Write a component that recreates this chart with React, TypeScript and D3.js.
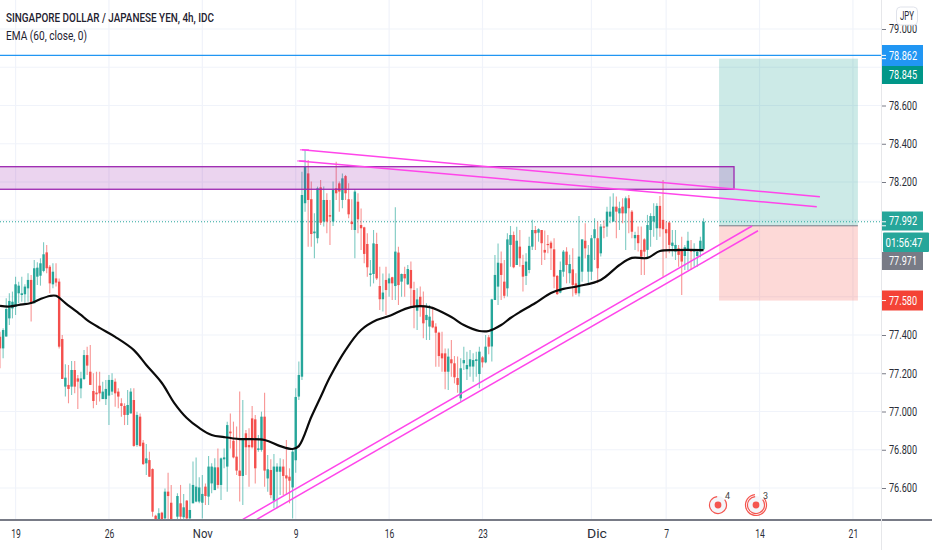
import React, { useEffect, useRef } from 'react';
import * as d3 from 'd3';

// [open, high, low, close], one list per trading week
type Candle = [number, number, number, number];

const candlesOct16: Candle[] = [
  [77.391, 77.417, 77.226, 77.33], [77.33, 77.435, 77.278, 77.426], [77.392, 77.592, 77.392, 77.536],
  [77.487, 77.618, 77.452, 77.578], [77.539, 77.627, 77.487, 77.574],
];
const candlesOct19: Candle[] = [
  [77.548, 77.705, 77.505, 77.665], [77.618, 77.679, 77.566, 77.658], [77.609, 77.705, 77.574, 77.618],
  [77.613, 77.665, 77.566, 77.653], [77.644, 77.723, 77.574, 77.688], [77.688, 77.714, 77.47, 77.566],
  [77.566, 77.792, 77.566, 77.749], [77.705, 77.78, 77.661, 77.752], [77.71, 77.801, 77.658, 77.775],
  [77.735, 77.885, 77.728, 77.822], [77.832, 77.871, 77.723, 77.749], [77.757, 77.766, 77.618, 77.67],
  [77.665, 77.775, 77.644, 77.731], [77.696, 77.775, 77.653, 77.674], [77.679, 77.696, 77.33, 77.339],
  [77.379, 77.4, 77.17, 77.17], [77.13, 77.247, 77.078, 77.177], [77.139, 77.243, 77.043, 77.118],
  [77.13, 77.264, 77.086, 77.217], [77.217, 77.264, 77.095, 77.13], [77.173, 77.191, 77.013, 77.156],
  [77.121, 77.208, 77.069, 77.173], [77.17, 77.322, 77.165, 77.295], [77.295, 77.339, 77.191, 77.24],
  [77.208, 77.348, 77.139, 77.139], [77.107, 77.2, 77.017, 77.055], [77.099, 77.208, 77.034, 77.09],
  [77.135, 77.208, 77.052, 77.095], [77.065, 77.156, 77.065, 77.104], [77.065, 77.165, 77.034, 77.118],
];
const candlesOct26: Candle[] = [
  [77.083, 77.191, 76.929, 77.165], [77.104, 77.2, 77.086, 77.165], [77.156, 77.173, 77.025, 77.095],
  [77.104, 77.121, 77.017, 77.078], [77.043, 77.069, 76.973, 77.029], [77.029, 77.043, 76.929, 76.982],
  [76.982, 77.112, 76.929, 77.034], [76.99, 77.121, 76.99, 77.104], [77.06, 77.121, 76.816, 76.82],
  [76.825, 76.999, 76.816, 76.982], [76.973, 76.99, 76.816, 76.82], [76.837, 76.851, 76.72, 76.725],
  [76.729, 76.83, 76.668, 76.755], [76.746, 76.79, 76.659, 76.659], [76.699, 76.703, 76.45, 76.476],
  [76.455, 76.46, 76.38, 76.39], [76.4, 76.494, 76.38, 76.468], [76.471, 76.476, 76.38, 76.4],
  [76.441, 76.598, 76.4, 76.581], [76.581, 76.68, 76.4, 76.558], [76.523, 76.616, 76.38, 76.4],
  [76.38, 76.42, 76.36, 76.41], [76.45, 76.572, 76.38, 76.558], [76.52, 76.616, 76.38, 76.45],
  [76.447, 76.569, 76.38, 76.499], [76.534, 76.537, 76.38, 76.441], [76.441, 76.624, 76.415, 76.485],
  [76.52, 76.738, 76.52, 76.616], [76.529, 76.76, 76.525, 76.607], [76.529, 76.656, 76.52, 76.603],
];
const candlesNov2: Candle[] = [
  [76.523, 76.668, 76.441, 76.569], [76.607, 76.624, 76.511, 76.558], [76.555, 76.767, 76.511, 76.712],
  [76.624, 76.729, 76.572, 76.712], [76.589, 76.755, 76.589, 76.708], [76.708, 76.807, 76.598, 76.616],
  [76.616, 76.76, 76.537, 76.755], [76.75, 76.807, 76.703, 76.76], [76.712, 76.947, 76.581, 76.929],
  [76.895, 76.99, 76.807, 76.886], [76.847, 76.947, 76.755, 76.76], [76.764, 76.921, 76.668, 76.691],
  [76.691, 77.104, 76.529, 76.663], [76.663, 77.06, 76.511, 76.86], [76.886, 76.903, 76.668, 76.813],
  [76.825, 76.912, 76.607, 76.813], [76.964, 77.029, 76.807, 76.813], [76.959, 76.982, 76.624, 76.703],
  [76.799, 76.877, 76.79, 76.807], [76.799, 76.999, 76.79, 76.973], [76.973, 77.098, 76.607, 76.691],
  [76.65, 76.772, 76.581, 76.698], [76.694, 76.75, 76.546, 76.563], [76.534, 76.778, 76.494, 76.712],
  [76.685, 76.729, 76.494, 76.712], [76.685, 76.755, 76.563, 76.712], [76.712, 76.75, 76.563, 76.663],
  [76.666, 76.851, 76.563, 76.65], [76.659, 76.703, 76.52, 76.638], [76.603, 76.799, 76.441, 76.79],
];
const candlesNov9: Candle[] = [
  [76.745, 77.121, 76.68, 77.076], [77.078, 77.261, 77.06, 77.191], [77.182, 78.254, 77.165, 78.132],
  [78.089, 78.367, 78.045, 78.28], [78.245, 78.315, 77.862, 78.106], [78.11, 78.202, 77.862, 77.928],
  [77.932, 78.036, 77.801, 77.941], [77.906, 78.176, 77.879, 78.167], [78.172, 78.21, 77.975, 77.987],
  [77.993, 78.176, 77.967, 78.106], [78.106, 78.141, 77.932, 77.993], [78.027, 78.106, 77.871, 78.019],
  [77.993, 78.202, 77.97, 78.158], [78.167, 78.306, 78.106, 78.141], [78.193, 78.202, 78.045, 78.15],
  [78.106, 78.245, 78.063, 78.219], [78.231, 78.237, 78.106, 78.141], [78.11, 78.193, 78.01, 78.031],
  [77.993, 78.11, 77.949, 77.98], [77.949, 78.162, 77.801, 78.15], [78.097, 78.141, 77.932, 78.005],
  [77.975, 78.062, 77.845, 77.958], [77.963, 77.966, 77.775, 77.824], [77.876, 77.932, 77.705, 77.754],
  [77.714, 77.792, 77.653, 77.722], [77.719, 77.949, 77.67, 77.879], [77.876, 77.935, 77.687, 77.696],
  [77.656, 77.757, 77.531, 77.587], [77.587, 77.722, 77.523, 77.622], [77.688, 77.757, 77.505, 77.635],
];
const candlesNov16: Candle[] = [
  [77.67, 77.722, 77.6, 77.696], [77.702, 77.705, 77.583, 77.67], [77.656, 78.068, 77.583, 77.836],
  [77.831, 77.862, 77.557, 77.661], [77.679, 77.722, 77.6, 77.719], [77.719, 77.757, 77.6, 77.696],
  [77.665, 77.766, 77.661, 77.745], [77.74, 77.784, 77.548, 77.644], [77.635, 77.679, 77.435, 77.548],
  [77.527, 77.644, 77.426, 77.586], [77.6, 77.653, 77.496, 77.548], [77.548, 77.627, 77.383, 77.461],
  [77.478, 77.566, 77.374, 77.505], [77.444, 77.557, 77.374, 77.496], [77.475, 77.548, 77.435, 77.44],
  [77.444, 77.461, 77.234, 77.412], [77.412, 77.417, 77.234, 77.29], [77.304, 77.417, 77.208, 77.278],
  [77.304, 77.33, 77.116, 77.208], [77.208, 77.33, 77.112, 77.287], [77.273, 77.374, 77.182, 77.252],
  [77.252, 77.29, 77.147, 77.179], [77.175, 77.287, 77.098, 77.139], [77.069, 77.278, 77.052, 77.226],
  [77.252, 77.339, 77.217, 77.269], [77.221, 77.313, 77.165, 77.243], [77.235, 77.322, 77.182, 77.273],
  [77.235, 77.304, 77.156, 77.269], [77.264, 77.313, 77.182, 77.273], [77.196, 77.339, 77.121, 77.313],
];
const candlesNov23: Candle[] = [
  [77.283, 77.29, 77.23, 77.257], [77.257, 77.4, 77.252, 77.339], [77.388, 77.4, 77.3, 77.339],
  [77.34, 77.59, 77.262, 77.586], [77.583, 77.818, 77.583, 77.714], [77.653, 77.879, 77.557, 77.778],
  [77.775, 77.836, 77.583, 77.714], [77.679, 77.792, 77.592, 77.605], [77.644, 77.932, 77.601, 77.9],
  [77.871, 77.97, 77.757, 77.923], [77.923, 77.941, 77.749, 77.754], [77.766, 77.966, 77.766, 77.893],
  [77.862, 77.949, 77.757, 77.801], [77.766, 77.819, 77.627, 77.705], [77.709, 77.827, 77.662, 77.784],
  [77.74, 77.914, 77.723, 77.866], [77.862, 78.002, 77.845, 77.949], [77.949, 77.97, 77.845, 77.932],
  [77.935, 77.958, 77.888, 77.953], [77.949, 77.949, 77.766, 77.88], [77.845, 77.946, 77.792, 77.831],
  [77.876, 77.923, 77.827, 77.87], [77.883, 77.893, 77.74, 77.853], [77.848, 77.906, 77.644, 77.705],
  [77.709, 77.714, 77.609, 77.614], [77.622, 77.784, 77.618, 77.74], [77.731, 77.845, 77.705, 77.836],
  [77.836, 77.859, 77.67, 77.766], [77.723, 77.819, 77.67, 77.771], [77.743, 77.853, 77.601, 77.662],
];
const candlesNov30: Candle[] = [
  [77.67, 77.723, 77.609, 77.618], [77.618, 78.022, 77.601, 77.81], [77.731, 77.9, 77.679, 77.9],
  [77.893, 77.984, 77.801, 77.853], [77.731, 77.871, 77.67, 77.819], [77.731, 77.923, 77.688, 77.906],
  [77.906, 78.01, 77.792, 77.953], [77.906, 77.993, 77.67, 77.749], [77.827, 77.98, 77.81, 77.967],
  [77.967, 77.999, 77.906, 77.963], [77.967, 78.071, 77.914, 78.045], [78.019, 78.124, 77.984, 78.045],
  [77.993, 78.141, 77.993, 78.071], [78.071, 78.124, 77.906, 78.045], [78.036, 78.097, 77.949, 78.063],
  [78.071, 78.115, 77.984, 78.036], [78.036, 78.124, 77.845, 78.115], [78.115, 78.132, 77.932, 78.063],
  [78.045, 78.054, 77.906, 77.94], [77.906, 77.94, 77.845, 77.923], [77.923, 77.967, 77.836, 77.88],
  [77.845, 77.967, 77.714, 77.81], [77.9, 77.906, 77.714, 77.836], [77.845, 78.028, 77.801, 77.975],
  [77.949, 78.036, 77.862, 78.022], [77.993, 78.089, 77.914, 78.022], [77.958, 78.089, 77.897, 78.075],
  [78.075, 78.127, 77.914, 77.958], [78.002, 78.211, 77.705, 77.953], [77.953, 77.993, 77.801, 77.932],
];
const candlesDec7: Candle[] = [
  [77.988, 77.993, 77.827, 77.871], [77.866, 77.949, 77.81, 77.883], [77.836, 77.949, 77.792, 77.871],
  [77.853, 77.871, 77.757, 77.819], [77.845, 77.914, 77.609, 77.784], [77.813, 77.871, 77.74, 77.859],
  [77.845, 77.94, 77.74, 77.893], [77.848, 77.897, 77.74, 77.836], [77.836, 77.88, 77.757, 77.848],
  [77.813, 77.845, 77.757, 77.836], [77.836, 77.914, 77.806, 77.893], [77.848, 78.01, 77.845, 77.992],
];

// EMA 60 at these bars
const emaBars = [-5, -2, 1, 5, 8, 11, 13, 16, 21, 23, 27, 32, 38, 42, 47, 51, 55, 59, 63, 67, 72, 80, 85, 89, 91, 95, 98, 101, 106, 111, 116, 120, 127, 133, 140, 144, 149, 152, 156, 159, 162, 167, 172, 176, 181, 188, 194, 198, 203, 207, 212, 221];
const emaValues = [77.552, 77.549, 77.557, 77.567, 77.588, 77.604, 77.605, 77.567, 77.505, 77.478, 77.437, 77.39, 77.321, 77.243, 77.149, 77.044, 76.966, 76.914, 76.877, 76.866, 76.856, 76.851, 76.819, 76.804, 76.819, 76.971, 77.076, 77.18, 77.321, 77.426, 77.478, 77.499, 77.546, 77.546, 77.494, 77.452, 77.421, 77.421, 77.452, 77.489, 77.52, 77.567, 77.62, 77.641, 77.656, 77.688, 77.766, 77.803, 77.803, 77.839, 77.844, 77.844];

const gridPrices = [79, 78.8, 78.6, 78.4, 78.2, 78, 77.8, 77.6, 77.4, 77.2, 77, 76.8, 76.6];
const priceTicks = [79, 78.6, 78.4, 78.2, 77.4, 77.2, 77, 76.8, 76.6];
const timeTickBars = [0, 30, 60, 90, 120, 150, 185, 209, 239, 269];
const timeTickLabels = ['19', '26', 'Nov', '9', '16', '23', 'Dic', '7', '14', '21'];

// drawings: [bar, price, bar, price]
const trendLines = [
  [92, 78.368, 258.4, 78.123],
  [91.1, 78.31, 257.4, 78.071],
  [73, 76.436, 236.6, 77.97],
  [77.5, 76.436, 238.5, 77.945],
];
const zone = { bar: 230.8, top: 78.28, bottom: 78.162 };
const trade = { from: 226, to: 270.6, target: 78.845, entry: 77.971, stop: 77.58 };
const lastPrice = 77.992;
const alertPrice = 78.862;

const width = 932;
const height = 550;
const plotW = 881;
const plotH = 519;
const font = 'Roboto, sans-serif';

const UP = '#26a69a';
const DOWN = '#f44f4c';
const PINK = '#ff45ea';

export default function App() {
  const ref = useRef<SVGSVGElement>(null);

  useEffect(() => {
    const svg = d3.select(ref.current as SVGSVGElement);
    svg.selectAll('*').remove();

    const candles = [
      ...candlesOct16, ...candlesOct19, ...candlesOct26, ...candlesNov2, ...candlesNov9,
      ...candlesNov16, ...candlesNov23, ...candlesNov30, ...candlesDec7,
    ].map((c, i) => ({ bar: i - 5, open: c[0], high: c[1], low: c[2], close: c[3] }));

    const x = d3.scaleLinear().domain([-5, 221]).range([0, 703.5]);
    const y = d3.scaleLinear().domain([79, 76.6]).range([29, 488]);

    svg.append('rect').attr('width', width).attr('height', height).attr('fill', '#fff');

    svg.append('clipPath').attr('id', 'plot')
      .append('rect').attr('width', plotW).attr('height', plotH);

    const plot = svg.append('g').attr('clip-path', 'url(#plot)');

    // grid
    plot.selectAll('.hgrid').data(gridPrices).enter().append('line')
      .attr('x1', 0).attr('x2', plotW)
      .attr('y1', (d) => y(d)).attr('y2', (d) => y(d))
      .attr('stroke', '#f0f3fa').attr('stroke-width', 1.2);
    plot.selectAll('.vgrid').data(timeTickBars).enter().append('line')
      .attr('x1', (d) => x(d)).attr('x2', (d) => x(d))
      .attr('y1', 0).attr('y2', plotH)
      .attr('stroke', '#f0f3fa').attr('stroke-width', 1.2);

    // long position box
    plot.append('rect')
      .attr('x', x(trade.from)).attr('width', x(trade.to) - x(trade.from))
      .attr('y', y(trade.target)).attr('height', y(trade.entry) - y(trade.target))
      .attr('fill', '#009688').attr('fill-opacity', 0.2);
    plot.append('rect')
      .attr('x', x(trade.from)).attr('width', x(trade.to) - x(trade.from))
      .attr('y', y(trade.entry)).attr('height', y(trade.stop) - y(trade.entry))
      .attr('fill', '#f44336').attr('fill-opacity', 0.2);
    plot.append('line')
      .attr('x1', x(trade.from)).attr('x2', x(trade.to))
      .attr('y1', y(trade.entry)).attr('y2', y(trade.entry))
      .attr('stroke', '#787b86').attr('stroke-width', 1);

    // last price line and alert line
    plot.append('line')
      .attr('x1', 0).attr('x2', plotW)
      .attr('y1', y(lastPrice)).attr('y2', y(lastPrice))
      .attr('stroke', UP).attr('stroke-width', 1).attr('stroke-dasharray', '1 2');
    plot.append('line')
      .attr('x1', 0).attr('x2', plotW)
      .attr('y1', y(alertPrice)).attr('y2', y(alertPrice))
      .attr('stroke', '#2196f3').attr('stroke-width', 1.2);

    // candles
    const color = (d: { open: number; close: number }) => (d.close >= d.open ? UP : DOWN);
    plot.selectAll('.wick').data(candles).enter().append('line')
      .attr('x1', (d) => x(d.bar)).attr('x2', (d) => x(d.bar))
      .attr('y1', (d) => y(d.high)).attr('y2', (d) => y(d.low))
      .attr('stroke', color).attr('stroke-width', 1.1).attr('stroke-opacity', 0.6);
    plot.selectAll('.body').data(candles).enter().append('rect')
      .attr('x', (d) => x(d.bar) - 1.2)
      .attr('width', 2.4)
      .attr('y', (d) => y(Math.max(d.open, d.close)))
      .attr('height', (d) => Math.max(1, Math.abs(y(d.open) - y(d.close))))
      .attr('fill', color);

    // resistance zone
    plot.append('rect')
      .attr('x', -2).attr('width', x(zone.bar) + 2)
      .attr('y', y(zone.top)).attr('height', y(zone.bottom) - y(zone.top))
      .attr('fill', '#9c27b0').attr('fill-opacity', 0.2)
      .attr('stroke', '#9c27b0').attr('stroke-width', 1.3);

    // EMA
    const emaLine = d3.line<number>()
      .x((d) => x(d))
      .y((_, i) => y(emaValues[i]))
      .curve(d3.curveCatmullRom.alpha(0.5));
    plot.append('path')
      .attr('d', emaLine(emaBars))
      .attr('fill', 'none').attr('stroke', '#0b0b0b').attr('stroke-width', 2.2);

    // trend lines
    plot.selectAll('.trend').data(trendLines).enter().append('line')
      .attr('x1', (d) => x(d[0])).attr('y1', (d) => y(d[1]))
      .attr('x2', (d) => x(d[2])).attr('y2', (d) => y(d[3]))
      .attr('stroke', PINK).attr('stroke-width', 1.5);
    plot.selectAll('.trendStart').data(trendLines.slice(0, 2)).enter().append('line')
      .attr('x1', (d) => x(d[0]) - 2).attr('y1', (d) => y(d[1]))
      .attr('x2', (d) => x(d[0]) + 7).attr('y2', (d) => y(d[1]))
      .attr('stroke', PINK).attr('stroke-width', 1);

    // event badges
    const badges = [
      { x: 718, rings: 1, label: '4' },
      { x: 756, rings: 2, label: '3' },
    ];
    const arc = d3.arc<{ r: number }>()
      .innerRadius((d) => d.r - 0.6)
      .outerRadius((d) => d.r + 0.6)
      .startAngle(0.9)
      .endAngle(Math.PI * 2 - 0.1);
    badges.forEach((b) => {
      const g = plot.append('g').attr('transform', `translate(${b.x},505)`);
      g.append('circle').attr('r', 9).attr('fill', '#f4f5f9');
      d3.range(b.rings).forEach((i) => {
        g.append('path').attr('d', arc({ r: 8.5 + i * 2 }) as string).attr('fill', '#f4554f');
      });
      g.append('circle').attr('r', 3.4).attr('fill', '#f4554f');
      g.append('text').attr('x', 7).attr('y', -6).attr('font-size', 9)
        .attr('font-family', font).attr('fill', '#444').text(b.label);
    });

    // axes
    svg.append('line')
      .attr('x1', 0).attr('x2', width)
      .attr('y1', 520).attr('y2', 520)
      .attr('stroke', '#787b86').attr('stroke-width', 2);
    svg.append('line')
      .attr('x1', 881.5).attr('x2', 881.5)
      .attr('y1', 0).attr('y2', height)
      .attr('stroke', '#e6e7ea').attr('stroke-width', 1);

    const yAxis = d3.axisRight(y)
      .tickValues(priceTicks)
      .tickSize(4)
      .tickPadding(3)
      .tickFormat((d) => (d as number).toFixed(3));
    const yG = svg.append('g').attr('transform', 'translate(882,0)').call(yAxis);
    yG.select('.domain').remove();
    yG.selectAll('.tick line').attr('stroke', '#787b86');
    yG.selectAll('.tick text')
      .attr('font-family', font).attr('font-size', 12).attr('fill', '#2b2e38')
      .attr('textLength', 28).attr('lengthAdjust', 'spacingAndGlyphs');

    const xAxis = d3.axisBottom(x)
      .tickValues(timeTickBars)
      .tickSize(0)
      .tickPadding(9)
      .tickFormat((_, i) => timeTickLabels[i]);
    const xG = svg.append('g').attr('transform', 'translate(0,520)').call(xAxis);
    xG.select('.domain').remove();
    xG.selectAll('.tick text')
      .attr('font-family', font).attr('font-size', 12).attr('fill', '#2b2e38')
      .attr('dx', (_, i) => (timeTickLabels[i] === 'Dic' ? 5 : 0))
      .attr('textLength', (_, i) => (timeTickLabels[i].length === 3 ? 20 : timeTickLabels[i].length * 4.8))
      .attr('lengthAdjust', 'spacingAndGlyphs');

    // price labels
    const tags = [
      { price: alertPrice, top: 45, h: 21, fill: '#2196f3', text: '78.862' },
      { price: trade.target, top: 66, h: 18, fill: '#009688', text: '78.845' },
      { price: lastPrice, top: 211.5, h: 19, fill: UP, text: '77.992' },
      { price: trade.entry, top: 252, h: 18, fill: '#787b86', text: '77.971' },
      { price: trade.stop, top: 290.5, h: 20, fill: '#f44336', text: '77.580' },
    ];
    tags.forEach((t) => {
      svg.append('rect').attr('x', 882).attr('y', t.top).attr('width', 41).attr('height', t.h).attr('fill', t.fill);
      svg.append('line').attr('x1', 882).attr('x2', 886)
        .attr('y1', y(t.price)).attr('y2', y(t.price)).attr('stroke', '#fff');
      svg.append('text').attr('x', 889).attr('y', t.top + t.h / 2 + 4)
        .attr('font-family', font).attr('font-size', 12).attr('fill', '#fff')
        .attr('textLength', 28).attr('lengthAdjust', 'spacingAndGlyphs').text(t.text);
    });
    svg.append('rect').attr('x', 883).attr('y', 232.5).attr('width', 46).attr('height', 19.5).attr('rx', 1).attr('fill', UP);
    svg.append('text').attr('x', 885.5).attr('y', 246.5)
      .attr('font-family', font).attr('font-size', 12).attr('fill', '#fff')
      .attr('textLength', 37).attr('lengthAdjust', 'spacingAndGlyphs').text('01:56:47');

    // currency button
    svg.append('rect').attr('x', 896.5).attr('y', 7).attr('width', 21).attr('height', 18).attr('rx', 4)
      .attr('fill', '#fff').attr('stroke', '#e0e3eb');
    svg.append('text').attr('x', 900).attr('y', 20)
      .attr('font-family', font).attr('font-size', 12).attr('fill', '#2b2e38')
      .attr('textLength', 14).attr('lengthAdjust', 'spacingAndGlyphs').text('JPY');

    // legend
    svg.append('text').attr('x', 6).attr('y', 22)
      .attr('font-family', font).attr('font-size', 12.5).attr('font-weight', 500).attr('fill', '#1f2230')
      .attr('textLength', 208).attr('lengthAdjust', 'spacingAndGlyphs')
      .text('SINGAPORE DOLLAR / JAPANESE YEN, 4h, IDC');
    svg.append('text').attr('x', 6).attr('y', 40)
      .attr('font-family', font).attr('font-size', 12.5).attr('fill', '#1f2230')
      .attr('textLength', 81).attr('lengthAdjust', 'spacingAndGlyphs')
      .text('EMA (60, close, 0)');
  }, []);

  return (
    <svg
      ref={ref}
      width={width}
      height={height}
      style={{ position: 'fixed', left: 0, top: 0, display: 'block' }}
    />
  );
}
